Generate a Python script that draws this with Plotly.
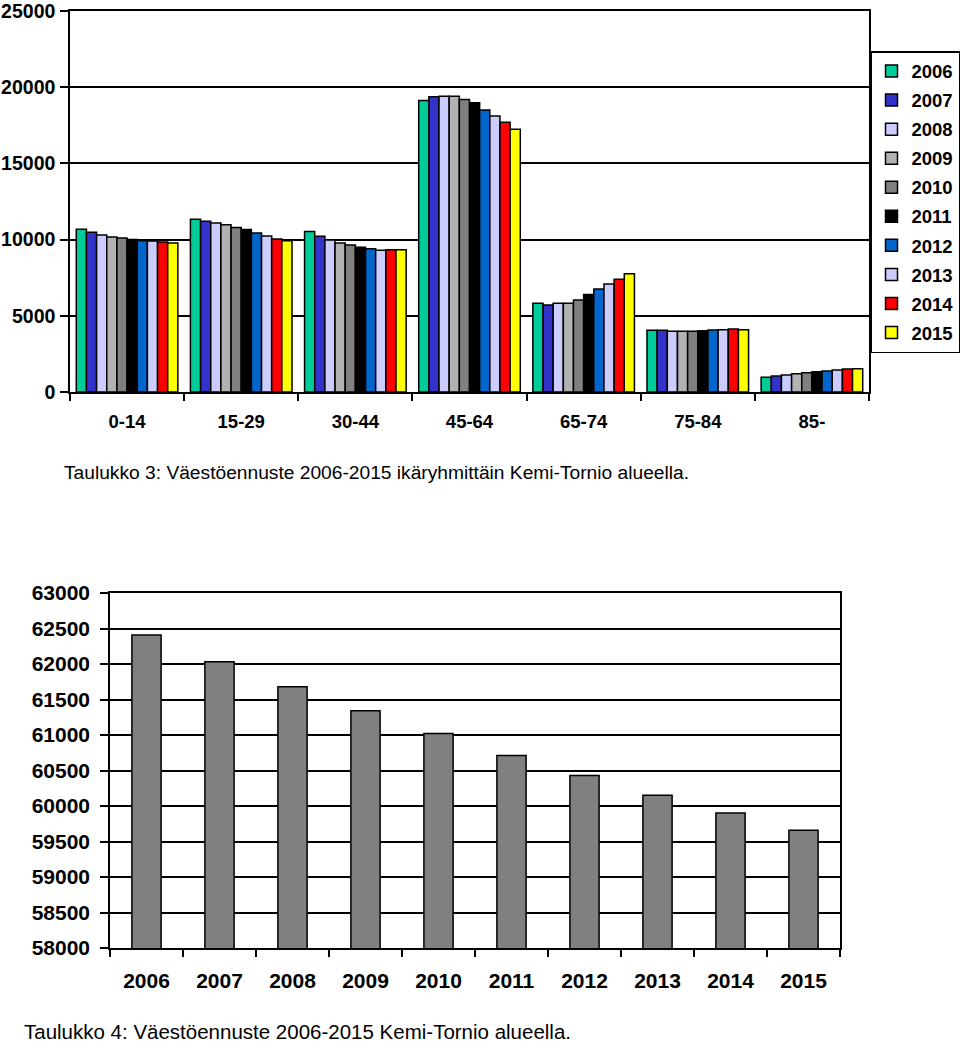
import plotly.graph_objects as go

age_groups = ["0-14", "15-29", "30-44", "45-64", "65-74", "75-84", "85-"]
years = ["2006", "2007", "2008", "2009", "2010", "2011", "2012", "2013", "2014", "2015"]

pop_2006 = [10680, 11340, 10530, 19120, 5820, 4050, 960]
pop_2007 = [10480, 11200, 10220, 19380, 5710, 4050, 1050]
pop_2008 = [10300, 11090, 9980, 19400, 5820, 3980, 1120]
pop_2009 = [10170, 10980, 9780, 19400, 5820, 3980, 1200]
pop_2010 = [10100, 10790, 9650, 19200, 6040, 3980, 1270]
pop_2011 = [10000, 10660, 9500, 18980, 6390, 4020, 1330]
pop_2012 = [9930, 10440, 9400, 18500, 6760, 4070, 1380]
pop_2013 = [9900, 10240, 9300, 18110, 7090, 4090, 1440]
pop_2014 = [9850, 10040, 9330, 17700, 7400, 4130, 1510]
pop_2015 = [9780, 9930, 9330, 17240, 7760, 4090, 1530]

total_population = [62410, 62030, 61680, 61340, 61020, 60710, 60430, 60150, 59900, 59660]

series = [pop_2006, pop_2007, pop_2008, pop_2009, pop_2010,
          pop_2011, pop_2012, pop_2013, pop_2014, pop_2015]
colors = ["#00CC99", "#3333CC", "#CCCCFF", "#B2B2B2", "#808080",
          "#000000", "#0066CC", "#CCCCFF", "#FF0000", "#FFFF00"]

FONT = "Liberation Sans, Arial, sans-serif"
W, H = 960, 1042

fig = go.Figure()
for yr, vals, col in zip(years, series, colors):
    fig.add_trace(go.Bar(
        x=age_groups, y=vals, name=yr, legendgroup=yr,
        marker=dict(color=col, line=dict(color="black", width=1.5)),
        xaxis="x", yaxis="y",
    ))

fig.add_trace(go.Bar(
    x=years, y=total_population, showlegend=False, width=0.4,
    marker=dict(color="#808080", line=dict(color="black", width=1.5)),
    xaxis="x2", yaxis="y2",
))

def px_x(p):
    return p / W

def px_y(p):
    return 1 - p / H

tick_font = dict(family=FONT, size=18.5, color="black", weight="bold")
ytick_font = dict(family=FONT, size=19.5, color="black", weight="bold")
tick_font2 = dict(family=FONT, size=21, color="black", weight="bold")

fig.update_layout(
    width=W, height=H,
    margin=dict(l=0, r=0, t=0, b=0, autoexpand=False),
    paper_bgcolor="white", plot_bgcolor="white",
    barmode="group", bargap=0.11, bargroupgap=0,
    font=dict(family=FONT, color="black"),
    xaxis=dict(
        domain=[px_x(70), px_x(869)], anchor="y", automargin=False,
        showline=True, linecolor="black", linewidth=1.5, mirror=True,
        ticks="outside", tickson="boundaries", ticklen=7, tickcolor="black", tickwidth=1.5,
        tickfont=tick_font, ticklabelstandoff=12, showgrid=False,
    ),
    yaxis=dict(
        domain=[px_y(392), px_y(11)], anchor="x", automargin=False,
        range=[0, 25000], dtick=5000, tickformat="d",
        showline=True, linecolor="black", linewidth=1.5, mirror=True,
        ticks="outside", ticklen=8, tickcolor="black", tickwidth=1.5,
        showgrid=True, gridcolor="black", gridwidth=1.5,
        tickfont=ytick_font, ticklabelstandoff=1, ticklabeloverflow="allow",
    ),
    xaxis2=dict(
        domain=[px_x(110), px_x(840)], anchor="y2", automargin=False,
        showline=True, linecolor="black", linewidth=1.5, mirror=True,
        ticks="outside", tickson="boundaries", ticklen=7, tickcolor="black", tickwidth=1.5,
        tickfont=tick_font2, ticklabelstandoff=13, showgrid=False,
    ),
    yaxis2=dict(
        domain=[px_y(948), px_y(593)], anchor="x2", automargin=False,
        range=[58000, 63000], dtick=500, tickformat="d",
        showline=True, linecolor="black", linewidth=1.5, mirror=True,
        ticks="outside", ticklen=8, tickcolor="black", tickwidth=1.5,
        showgrid=True, gridcolor="black", gridwidth=1.5,
        tickfont=tick_font2, ticklabelstandoff=6, ticklabeloverflow="allow",
    ),
    legend=dict(
        x=1, y=px_y(51), xanchor="right", yanchor="top",
        bordercolor="black", borderwidth=1.5, bgcolor="white",
        font=dict(family=FONT, size=18.5, color="black", weight="bold"),
        tracegroupgap=2, itemwidth=30,
    ),
    annotations=[
        dict(text="Taulukko 3: Väestöennuste 2006-2015 ikäryhmittäin Kemi-Tornio alueella.",
             x=px_x(62), y=px_y(472), xref="paper", yref="paper",
             xanchor="left", yanchor="middle", showarrow=False,
             font=dict(family=FONT, size=19.2, color="black")),
        dict(text="Taulukko 4: Väestöennuste 2006-2015 Kemi-Tornio alueella.",
             x=px_x(22), y=px_y(1031), xref="paper", yref="paper",
             xanchor="left", yanchor="middle", showarrow=False,
             font=dict(family=FONT, size=20.5, color="black")),
    ],
)

fig.write_html(
    "out.html",
    config={"displayModeBar": False},
    post_script="document.body.style.margin='0';document.body.style.overflow='hidden';",
)
